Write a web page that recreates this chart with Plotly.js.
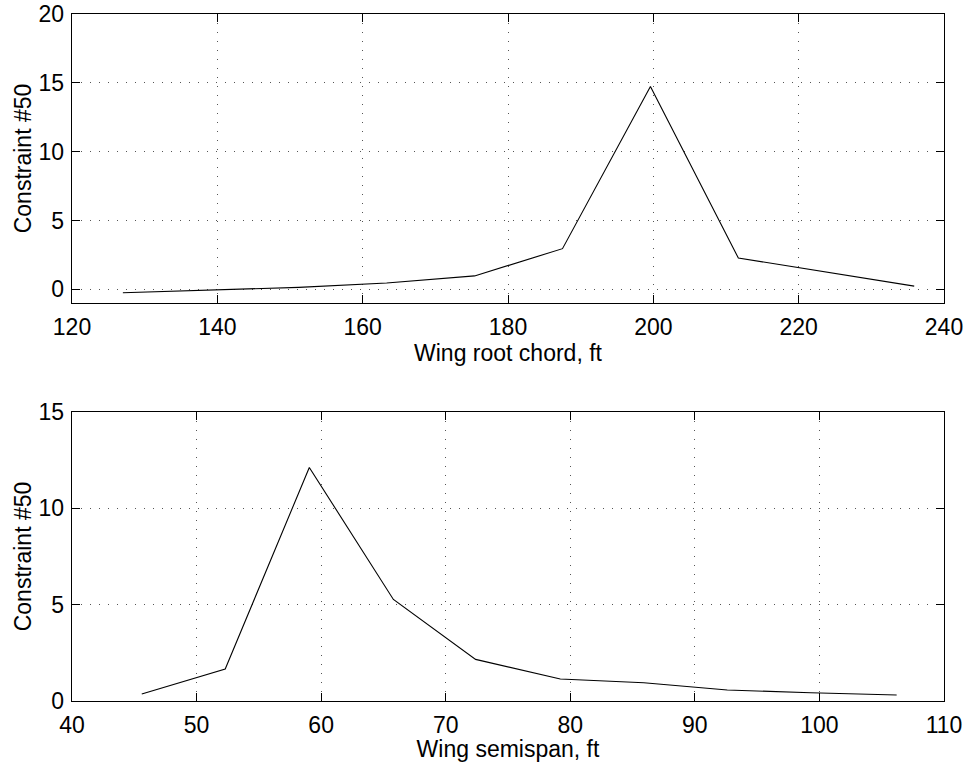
<!DOCTYPE html>
<html>
<head>
<meta charset="utf-8">
<script src="https://cdn.plot.ly/plotly-3.0.1.min.js"></script>
<style>html,body{margin:0;padding:0;background:#fff;}#chart{width:967px;height:762px;}</style>
</head>
<body>
<div id="chart"></div>
<script>
// Top panel: constraint #50 vs wing root chord
const rootChord = [127.0, 139.1, 151.2, 163.3, 175.4, 187.5, 199.6, 211.7, 235.9];
const constraintRoot = [-0.25, -0.03, 0.14, 0.45, 0.97, 2.95, 14.73, 2.27, 0.23];
// Bottom panel: constraint #50 vs wing semispan
const semispan = [45.6, 52.3, 59.05, 65.8, 72.4, 79.2, 85.9, 92.6, 99.3, 106.2];
const constraintSpan = [0.36, 1.66, 12.12, 5.27, 2.16, 1.14, 0.95, 0.57, 0.43, 0.31];

const xTop = { range: [120, 240], dtick: 20, label: 'Wing root chord, ft' };
const yTop = { range: [-1, 20], dtick: 5, label: 'Constraint #50' };
const xBot = { range: [40, 110], dtick: 10, label: 'Wing semispan, ft' };
const yBot = { range: [0, 15], dtick: 5, label: 'Constraint #50' };

const FONT = 'Liberation Sans, Arial, Helvetica, sans-serif';
const FS = 23;
function axisStyle(a, extra, standoff) {
  return Object.assign({
    range: a.range, dtick: a.dtick, tick0: 0,
    showline: true, linecolor: '#000', linewidth: 1.3, mirror: 'ticks',
    ticks: 'inside', ticklen: 8, tickcolor: '#000', tickwidth: 1,
    showgrid: true, gridcolor: '#555', gridwidth: 1, griddash: '1px,8px',
    zeroline: false, tickfont: { family: FONT, size: FS, color: '#000' },
    title: { text: a.label, standoff: standoff, font: { family: FONT, size: FS, color: '#000' } },
    fixedrange: true, automargin: false
  }, extra || {});
}

const traces = [
  { x: rootChord, y: constraintRoot, type: 'scatter', mode: 'lines',
    line: { color: '#000', width: 1.1 }, xaxis: 'x', yaxis: 'y', showlegend: false },
  { x: semispan, y: constraintSpan, type: 'scatter', mode: 'lines',
    line: { color: '#000', width: 1.1 }, xaxis: 'x2', yaxis: 'y2', showlegend: false }
];

const layout = {
  width: 967, height: 762,
  margin: { l: 72, r: 23, t: 14, b: 61 },
  paper_bgcolor: '#fff', plot_bgcolor: '#fff',
  font: { family: FONT, size: FS, color: '#000' },
  showlegend: false,
  xaxis: axisStyle(xTop, { domain: [0, 1], anchor: 'y', ticklabelstandoff: 3 }, 3),
  yaxis: axisStyle(yTop, { domain: [0.5793, 1], anchor: 'x', ticklabelstandoff: 2 }, 0),
  xaxis2: axisStyle(xBot, { domain: [0, 1], anchor: 'y2', ticklabelstandoff: 3 }, 3),
  yaxis2: axisStyle(yBot, { domain: [0, 0.4207], anchor: 'x2', ticklabelstandoff: 2 }, 0)
};

Plotly.newPlot('chart', traces, layout, { displayModeBar: false, staticPlot: true });
</script>
</body>
</html>
